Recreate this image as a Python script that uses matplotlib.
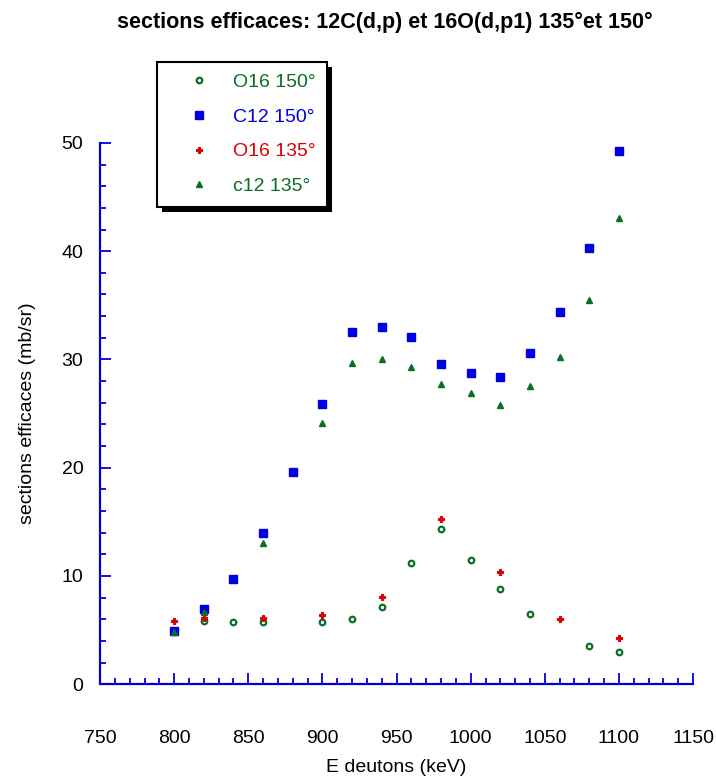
import matplotlib
matplotlib.use("Agg")
import matplotlib.pyplot as plt
from matplotlib.patches import Rectangle
from matplotlib.ticker import MultipleLocator

plt.rcParams['font.family'] = ['Liberation Sans', 'DejaVu Sans']

# energies (keV) and cross sections (mb/sr)
E_c12_150 = [800, 820, 840, 860, 880, 900, 920, 940, 960, 980, 1000, 1020, 1040, 1060, 1080, 1100]
c12_150 = [4.9, 6.95, 9.7, 14.0, 19.6, 25.9, 32.5, 33.0, 32.1, 29.6, 28.7, 28.4, 30.6, 34.4, 40.3, 49.3]

E_c12_135 = [800, 820, 860, 900, 920, 940, 960, 980, 1000, 1020, 1040, 1060, 1080, 1100]
c12_135 = [4.8, 6.7, 13.0, 24.1, 29.7, 30.0, 29.3, 27.7, 26.9, 25.8, 27.5, 30.2, 35.5, 43.1]

E_o16_150 = [820, 840, 860, 900, 920, 940, 960, 980, 1000, 1020, 1040, 1080, 1100]
o16_150 = [5.85, 5.7, 5.7, 5.7, 6.0, 7.1, 11.2, 14.3, 11.5, 8.8, 6.45, 3.55, 2.95]

E_o16_135 = [800, 820, 860, 900, 940, 980, 1020, 1060, 1100]
o16_135 = [5.8, 6.1, 6.1, 6.4, 8.05, 15.25, 10.35, 6.05, 4.25]

green = '#0a6e24'
blue = '#0000e6'
red = '#dd0000'
axcol = '#0000dd'

fig = plt.figure(figsize=(7.16, 7.81), dpi=100)
ax = fig.add_axes([0.1397, 0.124, 0.8283, 0.693])

ax.plot(E_o16_150, o16_150, 'o', ms=4, mfc='white', mec=green, mew=1.6, ls='none', label='O16 150°')
ax.plot(E_c12_150, c12_150, 's', ms=5.5, color=blue, ls='none', label='C12 150°')
ax.plot(E_o16_135, o16_135, 'P', ms=4.8, color=red, mew=0.8, ls='none', label='O16 135°')
ax.plot(E_c12_135, c12_135, '^', ms=5, color=green, ls='none', label='c12 135°')

ax.set_xlim(750, 1150)
ax.set_ylim(0, 50)
ax.xaxis.set_major_locator(MultipleLocator(50))
ax.xaxis.set_minor_locator(MultipleLocator(10))
ax.yaxis.set_major_locator(MultipleLocator(10))
ax.yaxis.set_minor_locator(MultipleLocator(2))

for s in ['top', 'right']:
    ax.spines[s].set_visible(False)
for s in ['left', 'bottom']:
    ax.spines[s].set_color(axcol)
    ax.spines[s].set_linewidth(1.6)

ax.tick_params(which='both', direction='in', color=axcol, width=1.3, labelsize=14)
ax.tick_params(which='major', length=8)
ax.tick_params(which='minor', length=4.5)
ax.tick_params(axis='x', which='major', pad=33)
ax.tick_params(axis='y', which='major', pad=12)

ax.set_xlabel('E deutons (keV)', fontsize=14, labelpad=9)
ax.set_ylabel('sections efficaces (mb/sr)', fontsize=14, labelpad=18)
fig.text(385 / 716, 0.985, 'sections efficaces: 12C(d,p) et 16O(d,p1) 135°et 150°',
         fontsize=15.5, fontweight='bold', ha='center', va='top')

leg = ax.legend(loc='upper left', bbox_to_anchor=(157 / 716, 1 - 62 / 781),
                bbox_transform=fig.transFigure, fontsize=14, frameon=True,
                fancybox=False, framealpha=1, edgecolor='black',
                borderpad=0.6, handlelength=3.1, handletextpad=0.2,
                labelspacing=0.87, borderaxespad=0, numpoints=1,
                labelcolor=[green, blue, red, green])
leg.get_frame().set_linewidth(1.5)
leg.set_zorder(10)

# black drop shadow behind the legend box
fig.canvas.draw()
bb = leg.get_window_extent().transformed(fig.transFigure.inverted())
dx, dy = 5 / 716, 5 / 781
shadow = Rectangle((bb.x0 + dx, bb.y0 - dy), bb.width, bb.height,
                   transform=fig.transFigure, facecolor='black', edgecolor='none',
                   zorder=9, clip_on=False)
ax.add_patch(shadow)

fig.savefig('out.png', dpi=100)
